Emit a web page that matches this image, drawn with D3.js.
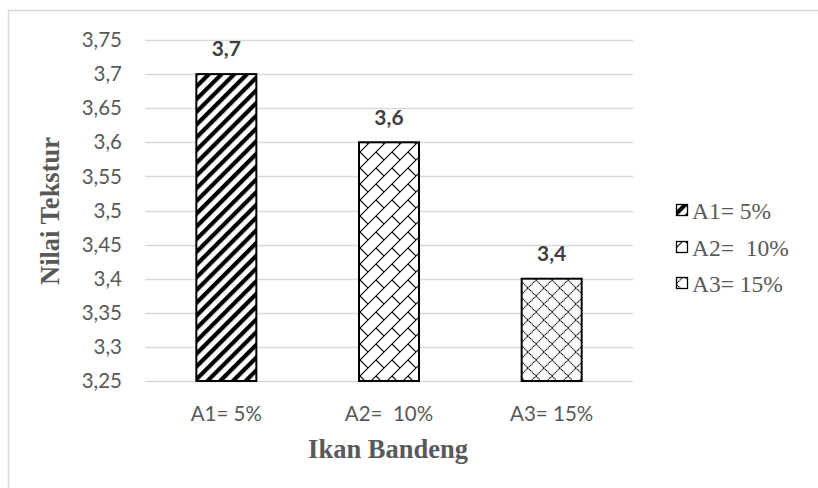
<!DOCTYPE html>
<html><head><meta charset="utf-8">
<script src="https://cdn.jsdelivr.net/npm/d3@7"></script>
<style>body{margin:0;background:#fff}svg{display:block}</style>
</head><body>
<svg id="c" width="818" height="488"></svg>
<script>
const categories = ["A1= 5%", "A2=  10%", "A3= 15%"];
const values = [3.7, 3.6, 3.4];
const valueLabels = ["3,7", "3,6", "3,4"];
const legendLabels = ["A1= 5%", "A2=  10%", "A3= 15%"];
const yTicks = [3.25, 3.3, 3.35, 3.4, 3.45, 3.5, 3.55, 3.6, 3.65, 3.7, 3.75];
const yTickLabels = ["3,25","3,3","3,35","3,4","3,45","3,5","3,55","3,6","3,65","3,7","3,75"];

(function(){
const svg = d3.select("#c");
const pLeft = 145, pRight = 633, pTop = 40, pBottom = 381;

// border
svg.append("rect").attr("x", 8.5).attr("y", 10.5).attr("width", 830).attr("height", 500)
  .attr("fill", "none").attr("stroke", "#d9d9d9").attr("stroke-width", 1.5);

// patterns
const defs = svg.append("defs");
const p1 = defs.append("pattern").attr("id", "p1").attr("patternUnits", "userSpaceOnUse")
  .attr("width", 9).attr("height", 9).attr("patternTransform", "rotate(45)");
p1.append("rect").attr("width", 9).attr("height", 9).attr("fill", "#fff");
p1.append("rect").attr("x", 0).attr("y", 0).attr("width", 4.2).attr("height", 9).attr("fill", "#000");

const p2 = defs.append("pattern").attr("id", "p2").attr("patternUnits", "userSpaceOnUse")
  .attr("width", 16).attr("height", 16);
p2.append("rect").attr("width", 16).attr("height", 16).attr("fill", "#fff");
p2.append("path").attr("d", "M-2,18 L18,-2 M-2,2 L2,-2 M14,18 L18,14 M8,8 L16,16")
  .attr("stroke", "#000").attr("stroke-width", 1.1).attr("fill", "none");

const p3 = defs.append("pattern").attr("id", "p3").attr("patternUnits", "userSpaceOnUse")
  .attr("width", 16).attr("height", 16);
p3.append("rect").attr("width", 16).attr("height", 16).attr("fill", "#fff");
p3.append("path").attr("d", "M-2,2 L2,-2 M-2,18 L18,-2 M14,18 L18,14 M-2,14 L2,18 M-2,-2 L18,18 M14,-2 L18,2")
  .attr("stroke", "#000").attr("stroke-width", 1.1).attr("fill", "none").attr("stroke-dasharray", "1.4,0.6");
const fills = ["url(#p1)", "url(#p2)", "url(#p3)"];

const y = d3.scaleLinear().domain([3.25, 3.75]).range([pBottom, pTop]);
const x = d3.scaleBand().domain(categories).range([pLeft, pRight]).padding(0);

// gridlines
svg.append("g").selectAll("line").data(yTicks).join("line")
  .attr("x1", pLeft).attr("x2", pRight)
  .attr("y1", d => Math.round(y(d)) + 0.5).attr("y2", d => Math.round(y(d)) + 0.5)
  .attr("stroke", "#d9d9d9").attr("stroke-width", 1.3);

// y tick labels
svg.append("g").selectAll("text").data(yTicks).join("text")
  .attr("x", 122).attr("y", d => y(d)).attr("dy", "0.35em")
  .attr("text-anchor", "end").attr("fill", "#595959")
  .style("font-family", "Lato, 'Open Sans', sans-serif").style("font-size", "20.5px")
  .text((d, i) => yTickLabels[i]);

// bars
const bw = 60;
svg.append("g").selectAll("rect").data(values).join("rect")
  .attr("x", (d, i) => x(categories[i]) + x.bandwidth() / 2 - bw / 2)
  .attr("y", d => y(d))
  .attr("width", bw).attr("height", d => y(3.25) - y(d))
  .attr("fill", (d, i) => fills[i]).attr("stroke", "#000").attr("stroke-width", 2);

// value labels
svg.append("g").selectAll("text").data(values).join("text")
  .attr("x", (d, i) => x(categories[i]) + x.bandwidth() / 2)
  .attr("y", d => y(d) - 25).attr("dy", "0.35em")
  .attr("text-anchor", "middle").attr("fill", "#404040")
  .style("font-family", "Lato, 'Open Sans', sans-serif").style("font-size", "21px").style("font-weight", "bold")
  .text((d, i) => valueLabels[i]);

// x labels
svg.append("g").selectAll("text").data(categories).join("text")
  .attr("x", d => x(d) + x.bandwidth() / 2).attr("y", 414).attr("dy", "0.35em")
  .attr("text-anchor", "middle").attr("fill", "#595959")
  .style("font-family", "Lato, 'Open Sans', sans-serif").style("font-size", "20.5px")
  .style("white-space", "pre")
  .text(d => d);

// axis titles
svg.append("text").attr("x", 388).attr("y", 449).attr("dy", "0.35em")
  .attr("text-anchor", "middle").attr("fill", "#595959")
  .style("font-family", "'Liberation Serif', 'Times New Roman', serif").style("font-size", "26.5px").style("font-weight", "bold")
  .text("Ikan Bandeng");
svg.append("text").attr("transform", "translate(50,211) rotate(-90)").attr("dy", "0.35em")
  .attr("text-anchor", "middle").attr("fill", "#595959")
  .style("font-family", "'Liberation Serif', 'Times New Roman', serif").style("font-size", "26.5px").style("font-weight", "bold")
  .text("Nilai Tekstur");

// legend
const ly = [211, 248, 284];
const lg = svg.append("g").selectAll("g").data(legendLabels).join("g")
  .attr("transform", (d, i) => `translate(676,${ly[i]})`);
lg.append("rect").attr("x", 0.5).attr("y", -6.5).attr("width", 11).attr("height", 11)
  .attr("fill", (d, i) => fills[i]).attr("stroke", "#000").attr("stroke-width", 1.3);
lg.append("text").attr("x", 16).attr("y", 0).attr("dy", "0.35em").attr("fill", "#595959")
  .style("font-family", "'Liberation Serif', 'Times New Roman', serif").style("font-size", "23.5px")
  .style("white-space", "pre")
  .text(d => d);
})();
</script>
</body></html>
